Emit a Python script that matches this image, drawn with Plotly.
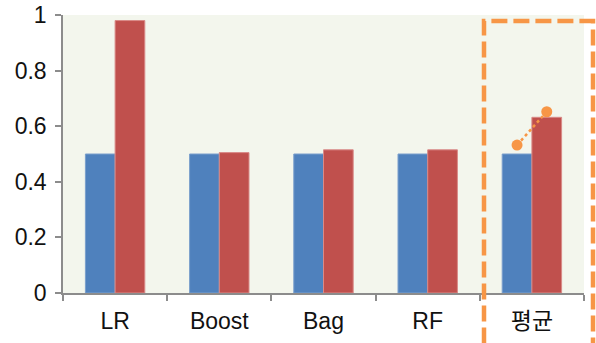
import plotly.graph_objects as go

categories = ["LR", "Boost", "Bag", "RF", "평균"]
series_blue = [0.5, 0.5, 0.5, 0.5, 0.5]
series_red = [0.98, 0.505, 0.515, 0.515, 0.632]
avg_points = [0.532, 0.652]

bar_w = 0.285
xs = list(range(len(categories)))
last = xs[-1]

fig = go.Figure()
fig.add_trace(go.Bar(x=xs, y=series_blue, width=bar_w, offset=-bar_w,
                     marker=dict(color="#4F81BD", line=dict(color="#7A9FCC", width=1))))
fig.add_trace(go.Bar(x=xs, y=series_red, width=bar_w, offset=0,
                     marker=dict(color="#C0504D", line=dict(color="#D98A88", width=1))))
fig.add_trace(go.Scatter(x=[last - bar_w / 2, last + bar_w / 2], y=avg_points,
                         mode="lines+markers", cliponaxis=False,
                         line=dict(color="#F79646", width=2.5, dash="dot"),
                         marker=dict(color="#F79646", size=11)))

fig.add_shape(type="rect", xref="paper", yref="paper",
              x0=(484 - 63) / 521, x1=(593 - 63) / 521,
              y0=-0.3, y1=(293 - 21) / 278,
              line=dict(color="#F79646", width=4.5, dash="16px,6px"),
              fillcolor="rgba(0,0,0,0)", layer="above")

fam = "Liberation Sans, Arial, Noto Sans CJK KR"
font = dict(family=fam, size=23, color="#111111")
fig.update_layout(
    width=596, height=343,
    margin=dict(l=63, r=12, t=15, b=50, autoexpand=False),
    paper_bgcolor="white", plot_bgcolor="#F3F6ED",
    showlegend=False, barmode="overlay",
    font=font,
)
fig.update_xaxes(range=[-0.5, 4.5], tickvals=xs, ticktext=categories,
                 ticks="", showgrid=False, zeroline=False, automargin=False,
                 showline=True, linecolor="#8C8C8C", linewidth=1.5,
                 tickfont=dict(family=fam, size=23, color="#111111"),
                 ticklabelstandoff=7,
                 minor=dict(tick0=0.5, dtick=1, ticks="outside", ticklen=6,
                            tickcolor="#8C8C8C", tickwidth=1.5, showgrid=False))
fig.update_yaxes(range=[0, 1], dtick=0.2, tick0=0, ticks="outside", ticklen=6,
                 tickcolor="#8C8C8C", tickwidth=1.5, showgrid=False, zeroline=False,
                 automargin=False, tickfont=dict(family=fam, size=23, color="#111111"),
                 showline=True, linecolor="#8C8C8C", linewidth=1.5, ticklabelstandoff=4)

fig.write_html("out.html", config={"displayModeBar": False},
               post_script="document.body.style.margin='0';document.body.style.overflow='hidden';")
